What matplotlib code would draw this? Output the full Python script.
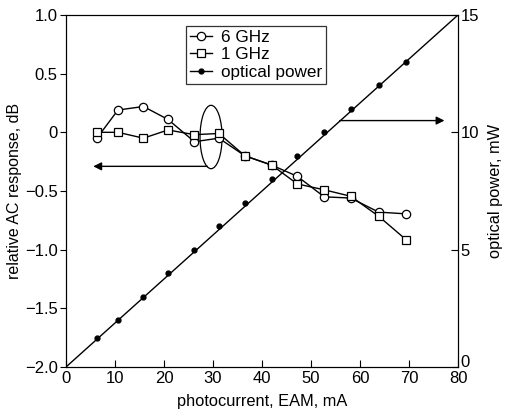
import matplotlib.pyplot as plt
from matplotlib.patches import Ellipse

plt.rcParams['font.family'] = ['Liberation Sans', 'DejaVu Sans']

# data
current = [6.3, 10.6, 15.8, 20.8, 26.2, 31.2, 36.5, 42.0, 47.2, 52.7, 58.1, 63.8, 69.4]
resp_6ghz = [-0.05, 0.19, 0.22, 0.11, -0.08, -0.05, -0.20, -0.28, -0.375, -0.55, -0.56, -0.68, -0.695]
resp_1ghz = [0.0, 0.0, -0.05, 0.02, -0.02, -0.01, -0.20, -0.28, -0.44, -0.49, -0.545, -0.715, -0.915]
opt_power = [1.25, 2.0, 3.0, 4.0, 5.0, 6.0, 7.0, 8.0, 9.0, 10.0, 11.0, 12.0, 13.0]
fit_x = [0, 80]
fit_y = [0, 15]

fig = plt.figure(figsize=(5.13, 4.15), dpi=100)
ax = fig.add_axes([0.1287, 0.1157, 0.7641, 0.8482])
ax2 = ax.twinx()

l6, = ax.plot(current, resp_6ghz, color='black', lw=1, marker='o', ms=6,
              mfc='white', mec='black', mew=0.9, label='6 GHz')
l1, = ax.plot(current, resp_1ghz, color='black', lw=1, marker='s', ms=6,
              mfc='white', mec='black', mew=0.9, label='1 GHz')
ax2.plot(fit_x, fit_y, color='black', lw=1)
ax2.plot(current, opt_power, color='black', lw=1, ls='none', marker='o', ms=3.5)
lp_leg, = ax.plot([], [], color='black', lw=1, marker='o', ms=3.5, label='optical power')

ax.set_xlim(0, 80)
ax.set_ylim(-2.0, 1.0)
ax2.set_ylim(0, 15)
ax.set_xticks(range(0, 81, 10))
ax.set_yticks([-2.0, -1.5, -1.0, -0.5, 0, 0.5, 1.0])
ax.set_yticklabels(['\u22122.0', '\u22121.5', '\u22121.0', '\u22120.5', '0', '0.5', '1.0'])
ax2.set_yticks([0, 5, 10, 15])

ax.tick_params(axis='x', direction='in', length=5, labelsize=12, pad=3)
ax.tick_params(axis='y', direction='out', length=4, labelsize=12, pad=2)
ax2.tick_params(axis='y', direction='in', length=5, labelsize=12, pad=2)
ax2.get_yticklabels()[0].set_va('baseline')

ax.set_xlabel('photocurrent, EAM, mA', fontsize=11.8, labelpad=6)
ax.set_ylabel('relative AC response, dB', fontsize=11.5, labelpad=2)
ax2.set_ylabel('optical power, mW', fontsize=11.8, labelpad=6)

# annotations
ax.add_patch(Ellipse((29.6, -0.04), 4.5, 0.54, fill=False, ec='black', lw=0.9))
ax.annotate('', xy=(5.0, -0.29), xytext=(29.4, -0.29),
            arrowprops=dict(arrowstyle='-|>', color='black', lw=1, mutation_scale=12))
ax.annotate('', xy=(77.8, 0.10), xytext=(55.3, 0.10),
            arrowprops=dict(arrowstyle='-|>', color='black', lw=1, mutation_scale=12))

leg = ax.legend(handles=[l6, l1, lp_leg], loc='upper left', bbox_to_anchor=(0.305, 0.97),
                frameon=True, fancybox=False, edgecolor='black', fontsize=12.3,
                handlelength=1.3, handletextpad=0.5, borderpad=0.25, labelspacing=0.15,
                borderaxespad=0)
leg.get_frame().set_linewidth(0.9)

fig.savefig('out.png', dpi=100)
